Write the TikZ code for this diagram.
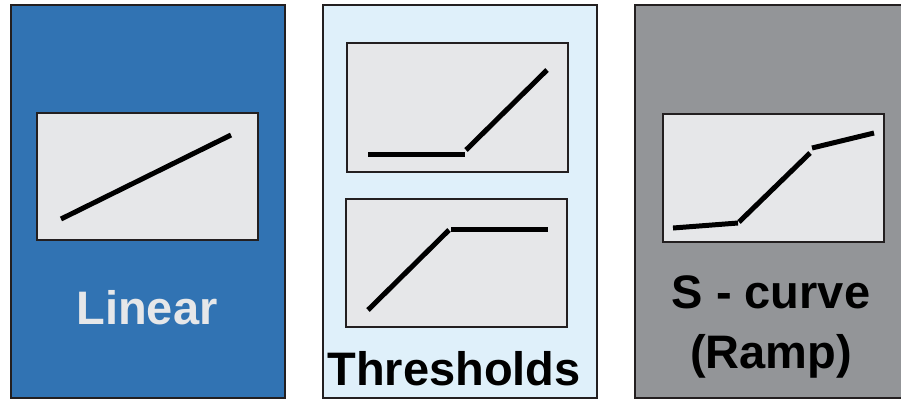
\documentclass[tikz,border=0pt]{standalone}
\usepackage{fontspec}
\setmainfont{Liberation Sans}
\definecolor{panelblue}{HTML}{3173B3}
\definecolor{panellight}{HTML}{DFF0FA}
\definecolor{panelgray}{HTML}{939598}
\definecolor{plotbg}{HTML}{E6E7E9}
\definecolor{edge}{HTML}{231F20}
\begin{document}
\begin{tikzpicture}[x=1pt,y=-1pt,
  panel/.style={draw=edge,line width=2.8pt,inner sep=0pt,outer sep=0pt},
  plotbox/.style={draw=edge,fill=plotbg,line width=2.2pt},
  curve/.style={draw=black,line width=5pt},
  label/.style={font=\fontsize{47}{55}\selectfont\bfseries,inner sep=0pt,anchor=base}]
\useasboundingbox (0,0) rectangle (901,400);
% panels
\draw[panel,fill=panelblue] (11,5) rectangle (285,398);
\draw[panel,fill=panellight] (323,5) rectangle (597,398);
\draw[panel,fill=panelgray] (635,5) rectangle (905,398);
% linear
\draw[plotbox] (37,113) rectangle (258,240);
\draw[curve] (61,219) -- (231,135);
\node[label,text=plotbg] (lin) at (147,324) {Linear};
% thresholds
\draw[plotbox] (347,43) rectangle (568,172);
\draw[curve] (368,154) -- (465,154);
\draw[curve] (466,150) -- (547,70);
\draw[plotbox] (346,199) rectangle (567,327);
\draw[curve] (368,310) -- (449,230);
\draw[curve] (451,229) -- (548,229);
\node[label,text=black] (thr) at (454,385) {Thresholds};
% s-curve
\draw[plotbox] (663,114) rectangle (884,242);
\draw[curve] (673,228) -- (738,223);
\draw[curve] (739,222) -- (810,153);
\draw[curve] (812,148) -- (874,133);
\node[label,text=black] (sc1) at (771,308) {S - curve};
\node[label,text=black] (sc2) at (771,368) {(Ramp)};
\end{tikzpicture}
\end{document}
